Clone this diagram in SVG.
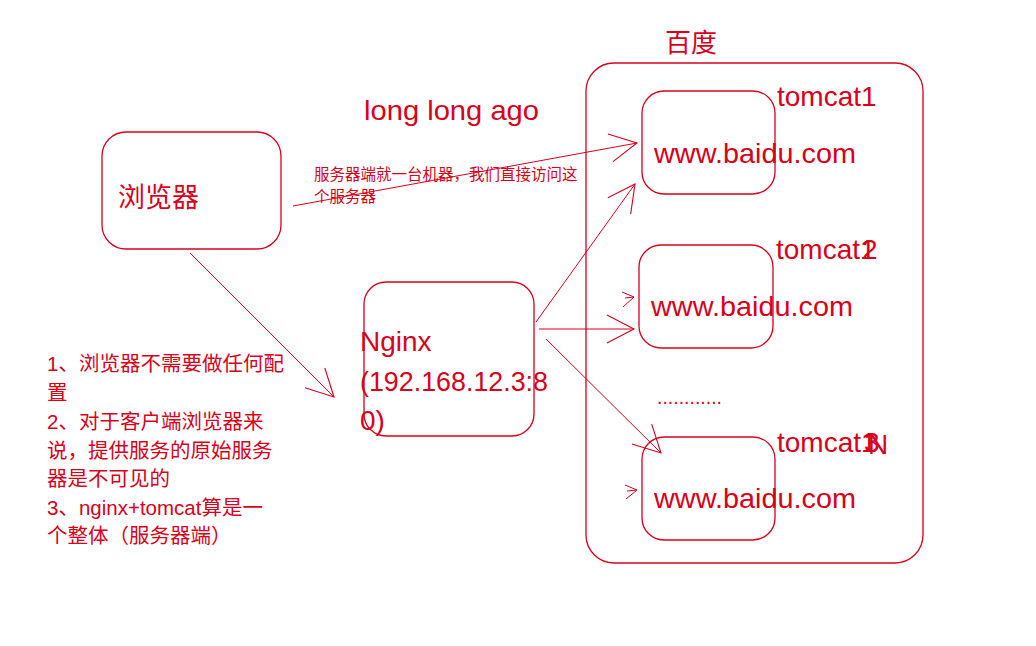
<svg xmlns="http://www.w3.org/2000/svg" width="1036" height="646" viewBox="0 0 1036 646">
<defs>
<style>
.box{fill:none;stroke:#d9001b;stroke-width:1.3}
.ln{fill:none;stroke:#d9001b;stroke-width:1}
.t{fill:#d9001b;font-family:"Liberation Sans","Noto Sans CJK SC",sans-serif}
.big{font-size:28px}
.cn{font-family:"Noto Sans CJK SC","Liberation Sans",sans-serif}
.note{font-size:20.5px}
.small{font-size:15.5px}
</style>
<marker id="ah" markerUnits="userSpaceOnUse" viewBox="-35 -20 40 40" markerWidth="40" markerHeight="40" refX="0" refY="0" orient="auto" overflow="visible">
<path d="M-27,-14 L0,0 L-27,14" fill="none" stroke="#d9001b" stroke-width="1.1"/>
</marker>
</defs>
<rect width="1036" height="646" fill="#ffffff"/>

<g id="baidu">
<rect class="box" x="586" y="63" width="337" height="500" rx="28" ry="28"/>
<text class="t cn" x="665" y="52" font-size="26">百度</text>
</g>

<g id="browser">
<rect class="box" x="102" y="132" width="179" height="117" rx="24" ry="24"/>
<text class="t cn" x="118" y="207" font-size="27">浏览器</text>
</g>

<g id="nginx">
<rect class="box" x="364" y="282" width="170" height="154" rx="22" ry="22"/>
<text class="t big" x="360" y="351">Nginx</text>
<text class="t big" x="360" y="391" textLength="188" lengthAdjust="spacingAndGlyphs">(192.168.12.3:8</text>
<text class="t big" x="360" y="430">0)</text>
</g>

<g id="tomcat1">
<rect class="box" x="642" y="91" width="133" height="103" rx="22" ry="22"/>
<text class="t big" x="654" y="163" textLength="202" lengthAdjust="spacingAndGlyphs">www.baidu.com</text>
<text class="t big" x="777" y="106">tomcat1</text>
</g>

<g id="tomcat2">
<rect class="box" x="639" y="245" width="134" height="103" rx="22" ry="22"/>
<text class="t big" x="651" y="316" textLength="202" lengthAdjust="spacingAndGlyphs">www.baidu.com</text>
<text class="t big" x="776" y="259">tomcat1</text>
<text class="t big" x="862" y="259">2</text>
</g>

<g id="tomcat3">
<rect class="box" x="642" y="437" width="133" height="103" rx="22" ry="22"/>
<text class="t big" x="654" y="508" textLength="202" lengthAdjust="spacingAndGlyphs">www.baidu.com</text>
<text class="t big" x="777" y="452">tomcat1</text>
<text class="t big" x="864" y="452">3</text>
<text class="t big" x="868" y="454">N</text>
</g>

<g id="dots">
<text class="t" x="657" y="404" font-size="19.5">............</text>
</g>

<g id="labels">
<text class="t big" x="364" y="120" textLength="175" lengthAdjust="spacingAndGlyphs">long long ago</text>
<text class="t small" x="314" y="180">服务器端就一台机器，我们直接访问这</text>
<text class="t small" x="314" y="202">个服务器</text>
<text class="t note" x="47" y="371">1、浏览器不需要做任何配</text>
<text class="t note" x="47" y="400">置</text>
<text class="t note" x="47" y="429">2、对于客户端浏览器来</text>
<text class="t note" x="47" y="458">说，提供服务的原始服务</text>
<text class="t note" x="47" y="486">器是不可见的</text>
<text class="t note" x="47" y="515">3、nginx+tomcat算是一</text>
<text class="t note" x="47" y="543">个整体（服务器端）</text>
</g>

<g id="connectors">
<line class="ln" x1="293" y1="206" x2="637" y2="143" marker-end="url(#ah)"/>
<line class="ln" x1="190" y1="253" x2="334" y2="397" marker-end="url(#ah)"/>
<line class="ln" x1="536" y1="322" x2="635" y2="184" marker-end="url(#ah)"/>
<line class="ln" x1="539" y1="329" x2="634" y2="329" marker-end="url(#ah)"/>
<line class="ln" x1="546" y1="339" x2="661" y2="453" marker-end="url(#ah)"/>
<path class="ln" d="M622,292 L634,297 L623,307 M625,298 L634,297"/>
<path class="ln" d="M625,485 L637,490 L626,499 M627,491 L637,490"/>
</g>
</svg>
